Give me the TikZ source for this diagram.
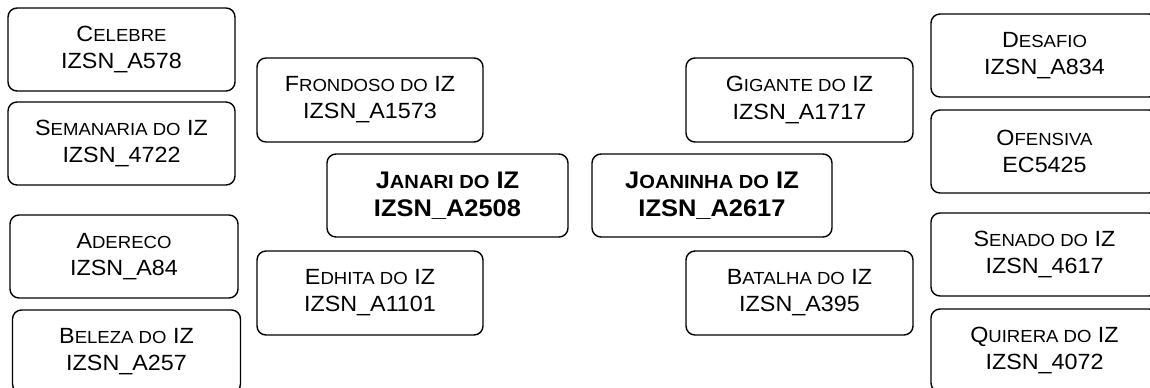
\documentclass[tikz,border=0pt]{standalone}
\usepackage{fontspec}
\setmainfont{Liberation Sans}[FakeStretch=1.06]
\newcommand\smc[1]{{\fontsize{17.5bp}{17.5bp}\selectfont #1}}
\newcommand\smcb[1]{{\fontsize{19bp}{19bp}\selectfont #1}}
\begin{document}
\begin{tikzpicture}[x=1bp,y=-1bp,
  pbox/.style={draw=black, line width=1.4bp, rounded corners=9bp, fill=white,
    minimum width=227bp, minimum height=83bp, inner sep=0pt, align=center,
    font=\fontsize{22bp}{27bp}\selectfont},
  mainbox/.style={pbox, minimum width=241bp, font=\fontsize{24bp}{28.5bp}\selectfont\bfseries}]
\useasboundingbox (0,0) rectangle (1150,387);
\clip (0,0) rectangle (1150,387);
\fill[white] (0,0) rectangle (1150,387);
% generation 3 left
\node[pbox] (celebre) at (121.5,49.5) {C\smc{ELEBRE}\\IZSN\_A578};
\node[pbox] (semanaria) at (121.5,143.5) {S\smc{EMANARIA DO} IZ\\IZSN\_4722};
\node[pbox, minimum width=228bp] (adereco) at (124,256.5) {A\smc{DERECO}\\IZSN\_A84};
\node[pbox, minimum width=228bp] (beleza) at (126.5,351.5) {B\smc{ELEZA DO} IZ\\IZSN\_A257};
% generation 2 left
\node[pbox, minimum width=226bp, minimum height=84bp] (frondoso) at (370,100) {F\smc{RONDOSO DO} IZ\\IZSN\_A1573};
\node[pbox, minimum width=226bp, minimum height=84bp] (edhita) at (370,293) {E\smc{DHITA DO} IZ\\IZSN\_A1101};
% center
\node[mainbox] (janari) at (447.5,195.5) {J\smcb{ANARI DO} IZ\\IZSN\_A2508};
\node[mainbox, minimum width=240bp] (joaninha) at (712,195.5) {J\smcb{OANINHA DO} IZ\\IZSN\_A2617};
% generation 2 right
\node[pbox, minimum height=84bp] (gigante) at (799.5,100) {G\smc{IGANTE DO} IZ\\IZSN\_A1717};
\node[pbox, minimum height=84bp] (batalha) at (799.5,293) {B\smc{ATALHA DO} IZ\\IZSN\_A395};
% generation 3 right
\node[pbox] (desafio) at (1044.5,55.5) {D\smc{ESAFIO}\\IZSN\_A834};
\node[pbox] (ofensiva) at (1044.5,151.5) {O\smc{FENSIVA}\\EC5425};
\node[pbox] (senado) at (1044.5,254.5) {S\smc{ENADO DO} IZ\\IZSN\_4617};
\node[pbox] (quirera) at (1044.5,350.5) {Q\smc{UIRERA DO} IZ\\IZSN\_4072};
\end{tikzpicture}
\end{document}
